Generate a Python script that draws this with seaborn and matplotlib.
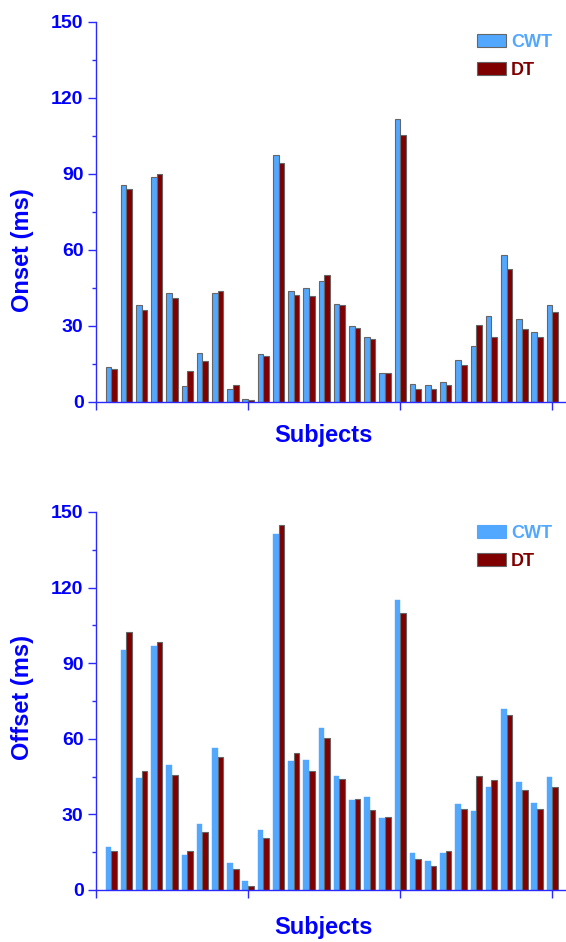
import numpy as np
import pandas as pd
import matplotlib
matplotlib.use("Agg")
import matplotlib.pyplot as plt
import seaborn as sns
from matplotlib.patches import Patch

subjects = list(range(1, 31))
onset_cwt = [14.0, 85.6, 38.1, 88.9, 42.9, 6.5, 19.4, 42.9, 5.3, 1.3,
             18.9, 97.5, 43.7, 44.9, 47.8, 38.5, 30.0, 25.5, 11.6, 111.9,
             7.1, 6.7, 7.9, 16.7, 22.3, 33.8, 58.1, 32.9, 27.8, 38.3]
onset_dt = [13.2, 84.0, 36.5, 90.1, 41.0, 12.2, 16.0, 43.7, 6.9, 0.9,
            18.1, 94.5, 42.4, 41.8, 50.2, 38.1, 29.2, 24.7, 11.6, 105.5,
            5.2, 5.2, 6.7, 14.7, 30.4, 25.8, 52.5, 28.8, 25.8, 35.7]
offset_cwt = [16.9, 95.2, 44.4, 97.0, 49.5, 14.0, 26.1, 56.3, 10.7, 3.6,
              23.8, 141.4, 51.1, 51.6, 64.2, 45.1, 35.9, 36.8, 28.6, 115.1,
              14.6, 11.5, 14.8, 34.2, 31.2, 40.8, 71.9, 42.8, 34.4, 44.9]
offset_dt = [15.6, 102.2, 47.1, 98.4, 45.8, 15.6, 22.9, 52.7, 8.5, 1.6,
             20.5, 144.7, 54.2, 47.4, 60.2, 44.0, 36.3, 31.6, 29.0, 109.9,
             12.2, 9.5, 15.4, 32.0, 45.1, 43.6, 69.5, 39.7, 32.2, 40.8]
methods = ["CWT", "DT"]
y_ticks = [0, 30, 60, 90, 120, 150]
x_ticks = [0, 10, 20, 30]

CWT_C = "#52a8ff"
DT_C = "#800000"
BLUE = "#0000ff"
SPINE = "#2a2aff"
EDGE = "#666666"

sns.set_theme(style="white")
plt.rcParams["font.family"] = ["Liberation Sans", "DejaVu Sans"]
plt.rcParams["font.weight"] = "bold"

fig = plt.figure(figsize=(5.66, 9.42), dpi=100)
ax1 = fig.add_axes([96/566, 1-402/942, 1-96/566, 380/942])
ax2 = fig.add_axes([96/566, 1-890/942, 1-96/566, 378/942])


def panel(ax, cwt, dt, ylabel, ylab_y, xlab_y, edge_cwt, leg_y):
    df = pd.DataFrame({
        "subject": subjects * 2,
        "value": list(cwt) + list(dt),
        "method": ["CWT"] * len(subjects) + ["DT"] * len(subjects),
    })
    sns.barplot(data=df, x="subject", y="value", hue="method", native_scale=True,
                palette={"CWT": CWT_C, "DT": DT_C}, width=0.74, dodge=True,
                errorbar=None, ax=ax, legend=False, saturation=1)
    n = len(subjects)
    for i, p in enumerate(ax.patches):
        if i < n:
            if edge_cwt:
                p.set_edgecolor(EDGE); p.set_linewidth(0.8)
            else:
                p.set_edgecolor(CWT_C); p.set_linewidth(0.3)
        else:
            p.set_edgecolor(EDGE); p.set_linewidth(0.8)
    ax.set_xlim(0, 30.9)
    ax.set_ylim(0, 150)
    ax.set_xticks(x_ticks)
    ax.set_xticklabels([])
    ax.set_yticks(y_ticks)
    ax.set_yticks([15, 45, 75, 105, 135], minor=True)
    ax.set_yticklabels([str(t) for t in y_ticks], fontsize=14, fontweight="bold", color=BLUE)
    ax.tick_params(axis="both", which="major", direction="out", length=5.5, width=1.0,
                   color=SPINE, pad=3.5, left=True, bottom=True)
    ax.tick_params(axis="y", which="minor", direction="out", length=3, width=1.0,
                   color=SPINE, left=True)
    for s in ["top", "right"]:
        ax.spines[s].set_visible(False)
    for s in ["left", "bottom"]:
        ax.spines[s].set_color(SPINE)
        ax.spines[s].set_linewidth(1.0)
    ax.set_ylabel(ylabel, fontsize=17, fontweight="bold", color=BLUE)
    ax.yaxis.set_label_coords(-0.157, ylab_y)
    ax.yaxis.label.set_va("center")
    ax.set_xlabel("Subjects", fontsize=17, fontweight="bold", color=BLUE)
    ax.xaxis.set_label_coords(0.485, xlab_y)
    ax.xaxis.label.set_va("center")
    handles = [Patch(facecolor=CWT_C, edgecolor=EDGE if edge_cwt else CWT_C, linewidth=0.8),
               Patch(facecolor=DT_C, edgecolor=EDGE, linewidth=0.8)]
    ax.legend(handles, methods, loc="upper left", bbox_to_anchor=(0.81, leg_y),
              frameon=False, handlelength=1.6, handleheight=0.75,
              handletextpad=0.3, labelspacing=0.6, borderpad=0, borderaxespad=0,
              labelcolor=[CWT_C, DT_C], prop={"weight": "bold", "size": 13})
    ax.grid(False)


panel(ax1, onset_cwt, onset_dt, "Onset (ms)", 0.40, -0.087, True, 0.968)
panel(ax2, offset_cwt, offset_dt, "Offset (ms)", 0.508, -0.10, False, 0.966)

fig.savefig("out.png", dpi=100)
